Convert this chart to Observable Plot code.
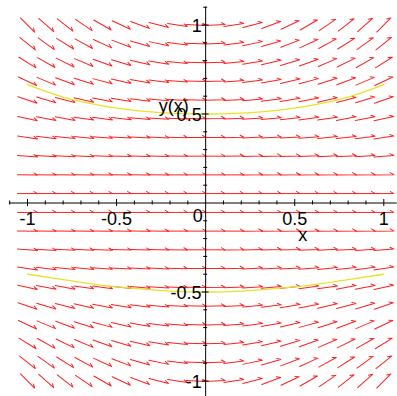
<!DOCTYPE html>
<html><head><meta charset="utf-8">
<script src="https://cdn.jsdelivr.net/npm/d3@7"></script>
<script src="https://cdn.jsdelivr.net/npm/@observablehq/plot@0.6"></script>
<style>body{margin:0;background:#fff} svg{display:block}</style>
</head><body><div id="chart"></div>
<script>
// grid of direction-field arrows (columns left to right, rows top to bottom)
const gridX = [-1,-0.895,-0.789,-0.684,-0.579,-0.474,-0.368,-0.263,-0.158,-0.053,0.053,0.158,0.263,0.368,0.474,0.579,0.684,0.789,0.895,1];
const gridY = [1,0.895,0.789,0.684,0.579,0.474,0.368,0.263,0.158,0.053,-0.053,-0.158,-0.263,-0.368,-0.474,-0.579,-0.684,-0.789,-0.895,-1];
// slope dy/dx shown by each arrow, one row per gridY value
const slopes = [
 [-1,-0.89,-0.79,-0.68,-0.58,-0.47,-0.37,-0.26,-0.16,-0.05,0.05,0.16,0.26,0.37,0.47,0.58,0.68,0.79,0.89,1],
 [-0.8,-0.72,-0.63,-0.55,-0.46,-0.38,-0.29,-0.21,-0.13,-0.04,0.04,0.13,0.21,0.29,0.38,0.46,0.55,0.63,0.72,0.8],
 [-0.62,-0.56,-0.49,-0.43,-0.36,-0.3,-0.23,-0.16,-0.1,-0.03,0.03,0.1,0.16,0.23,0.3,0.36,0.43,0.49,0.56,0.62],
 [-0.47,-0.42,-0.37,-0.32,-0.27,-0.22,-0.17,-0.12,-0.07,-0.02,0.02,0.07,0.12,0.17,0.22,0.27,0.32,0.37,0.42,0.47],
 [-0.34,-0.3,-0.26,-0.23,-0.19,-0.16,-0.12,-0.09,-0.05,-0.02,0.02,0.05,0.09,0.12,0.16,0.19,0.23,0.26,0.3,0.34],
 [-0.22,-0.2,-0.18,-0.15,-0.13,-0.11,-0.08,-0.06,-0.04,-0.01,0.01,0.04,0.06,0.08,0.11,0.13,0.15,0.18,0.2,0.22],
 [-0.14,-0.12,-0.11,-0.09,-0.08,-0.06,-0.05,-0.04,-0.02,-0.01,0.01,0.02,0.04,0.05,0.06,0.08,0.09,0.11,0.12,0.14],
 [-0.07,-0.06,-0.05,-0.05,-0.04,-0.03,-0.03,-0.02,-0.01,0,0,0.01,0.02,0.03,0.03,0.04,0.05,0.05,0.06,0.07],
 [-0.02,-0.02,-0.02,-0.02,-0.01,-0.01,-0.01,-0.01,0,0,0,0,0.01,0.01,0.01,0.01,0.02,0.02,0.02,0.02],
 [0,0,0,0,0,0,0,0,0,0,0,0,0,0,0,0,0,0,0,0],
 [0,0,0,0,0,0,0,0,0,0,0,0,0,0,0,0,0,0,0,0],
 [-0.02,-0.02,-0.02,-0.02,-0.01,-0.01,-0.01,-0.01,0,0,0,0,0.01,0.01,0.01,0.01,0.02,0.02,0.02,0.02],
 [-0.07,-0.06,-0.05,-0.05,-0.04,-0.03,-0.03,-0.02,-0.01,0,0,0.01,0.02,0.03,0.03,0.04,0.05,0.05,0.06,0.07],
 [-0.14,-0.12,-0.11,-0.09,-0.08,-0.06,-0.05,-0.04,-0.02,-0.01,0.01,0.02,0.04,0.05,0.06,0.08,0.09,0.11,0.12,0.14],
 [-0.22,-0.2,-0.18,-0.15,-0.13,-0.11,-0.08,-0.06,-0.04,-0.01,0.01,0.04,0.06,0.08,0.11,0.13,0.15,0.18,0.2,0.22],
 [-0.34,-0.3,-0.26,-0.23,-0.19,-0.16,-0.12,-0.09,-0.05,-0.02,0.02,0.05,0.09,0.12,0.16,0.19,0.23,0.26,0.3,0.34],
 [-0.47,-0.42,-0.37,-0.32,-0.27,-0.22,-0.17,-0.12,-0.07,-0.02,0.02,0.07,0.12,0.17,0.22,0.27,0.32,0.37,0.42,0.47],
 [-0.62,-0.56,-0.49,-0.43,-0.36,-0.3,-0.23,-0.16,-0.1,-0.03,0.03,0.1,0.16,0.23,0.3,0.36,0.43,0.49,0.56,0.62],
 [-0.8,-0.72,-0.63,-0.55,-0.46,-0.38,-0.29,-0.21,-0.13,-0.04,0.04,0.13,0.21,0.29,0.38,0.46,0.55,0.63,0.72,0.8],
 [-1,-0.89,-0.79,-0.68,-0.58,-0.47,-0.37,-0.26,-0.16,-0.05,0.05,0.16,0.26,0.37,0.47,0.58,0.68,0.79,0.89,1]
];
// solution curves
const curveX = [-1,-0.8,-0.6,-0.4,-0.2,0,0.2,0.4,0.6,0.8,1];
const upperCurveY = [0.665,0.595,0.55,0.52,0.505,0.5,0.505,0.52,0.55,0.595,0.665];
const lowerCurveY = [-0.4,-0.43,-0.46,-0.48,-0.495,-0.5,-0.495,-0.48,-0.46,-0.43,-0.4];
// axes
const xMajorTicks = [-1,-0.5,0.5,1];
const xMinorTicks = [-1.1,-0.9,-0.8,-0.7,-0.6,-0.4,-0.3,-0.2,-0.1,0.1,0.2,0.3,0.4,0.6,0.7,0.8,0.9];
const yMajorTicks = [-1,-0.5,0.5,1];
const yMinorTicks = [-0.9,-0.8,-0.7,-0.6,-0.4,-0.3,-0.2,-0.1,0.1,0.2,0.3,0.4,0.6,0.7,0.8,0.9,1.1];
const xTickValues = [-1,-0.5,0.5,1];
const xTickLabels = ["-1","-0.5","0.5","1"];
const yTickValues = [1,0.5,-0.5,-1];
const yTickLabels = ["1","0.5","-0.5","-1"];
const originLabel = "0";
const xAxisTitle = "x";
const yAxisTitle = "y(x)";

const field = [];
gridY.forEach((y, i) => gridX.forEach((x, j) => field.push({x, y, s: slopes[i][j]})));
const upper = curveX.map((x, i) => ({x, y: upperCurveY[i]}));
const lower = curveX.map((x, i) => ({x, y: lowerCurveY[i]}));

const halfArrow = {
  draw(ctx, l) {
    ctx.moveTo(0, 0);
    ctx.lineTo(0, -l);
    ctx.lineTo(-2.1, -l + 3.6);
  }
};

const font = "Liberation Sans, Arial, Helvetica, sans-serif";
const chart = Plot.plot({
  width: 397,
  height: 396,
  marginLeft: 27,
  marginRight: 13.7,
  marginTop: 24.5,
  marginBottom: 15.5,
  x: {domain: [-1, 1], axis: null},
  y: {domain: [-1, 1], axis: null},
  style: {fontFamily: font, background: "#fff"},
  marks: [
    Plot.vector(field, {
      x: "x", y: "y",
      rotate: d => 90 - Math.atan(d.s) * 180 / Math.PI,
      length: 20, anchor: "middle", shape: halfArrow,
      stroke: "#ff2020", strokeWidth: 1
    }),
    Plot.line(upper, {x: "x", y: "y", curve: "natural", stroke: "#e4e42a", strokeWidth: 1.3}),
    Plot.line(lower, {x: "x", y: "y", curve: "natural", stroke: "#e4e42a", strokeWidth: 1.3}),
    Plot.ruleY([0], {x1: -1.1, x2: 1.075, stroke: "#000", strokeWidth: 1}),
    Plot.ruleX([0], {y1: 1.1, y2: -1.1, stroke: "#000", strokeWidth: 1}),
    Plot.ruleX(xMajorTicks, {x: d => d, y1: 0, y2: 0, insetTop: -3.5, insetBottom: -3.5, stroke: "#000"}),
    Plot.ruleX(xMinorTicks, {x: d => d, y1: 0, y2: 0, insetTop: -2, insetBottom: -2, stroke: "#000"}),
    Plot.ruleY(yMajorTicks, {y: d => d, x1: 0, x2: 0, insetLeft: -3.5, insetRight: -3.5, stroke: "#000"}),
    Plot.ruleY(yMinorTicks, {y: d => d, x1: 0, x2: 0, insetLeft: -2, insetRight: -2, stroke: "#000"}),
    Plot.text(xTickValues, {x: d => d, y: 0, text: (d, i) => xTickLabels[i], dy: 16, fontSize: 18, fill: "#000"}),
    Plot.text(yTickValues, {x: 0, y: d => d, text: (d, i) => yTickLabels[i], textAnchor: "end", dx: -4, dy: 1, fontSize: 18, fill: "#000"}),
    Plot.text([0], {x: 0, y: 0, text: () => originLabel, dx: -8, dy: 13, fontSize: 18, fill: "#000"}),
    Plot.text([0], {x: 0.545, y: 0, text: () => xAxisTitle, dy: 32, fontSize: 18, fill: "#000"}),
    Plot.text([0], {x: 0, y: 0.5, text: () => yAxisTitle, textAnchor: "end", dx: -17, dy: -8, fontSize: 18, fill: "#000"})
  ]
});
document.getElementById("chart").appendChild(chart);
</script>
</body></html>
